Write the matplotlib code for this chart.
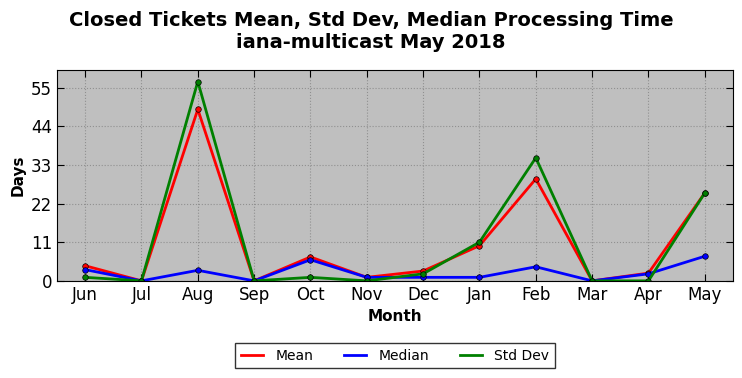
import matplotlib
matplotlib.use("Agg")
import matplotlib.pyplot as plt
from matplotlib.lines import Line2D

months = ["Jun", "Jul", "Aug", "Sep", "Oct", "Nov", "Dec", "Jan", "Feb", "Mar", "Apr", "May"]
mean_vals = [4.3, 0, 48.8, 0, 6.8, 1.0, 2.8, 10.0, 29.0, 0, 2.2, 25.0]
median_vals = [3.2, 0, 3.0, 0, 6.0, 1.0, 1.0, 1.0, 4.0, 0, 2.0, 7.0]
std_vals = [1.0, 0, 56.7, 0, 1.0, 0, 2.0, 11.0, 35.0, 0, 0, 25.0]
yticks = [0, 11, 22, 33, 44, 55]

fig = plt.figure(figsize=(7.42, 3.78), dpi=100)
ax = fig.add_axes([0.0768, 0.257, 0.911, 0.558])
ax.set_facecolor("#bfbfbf")
x = list(range(len(months)))
handles = []
for vals, col, lab in [(mean_vals, "red", "Mean"), (median_vals, "blue", "Median"), (std_vals, "green", "Std Dev")]:
    ax.plot(x, vals, color=col, lw=2, marker="o", ms=4, mec="black", mew=0.5)
    handles.append(Line2D([], [], color=col, lw=2, label=lab))
ax.set_xlim(-0.5, 11.5)
ax.set_ylim(0, 60)
ax.set_xticks(x)
ax.set_xticklabels(months, fontsize=12)
ax.set_yticks(yticks)
ax.set_yticklabels([str(t) for t in yticks], fontsize=12)
ax.tick_params(direction="in", top=True, right=True, length=5)
ax.grid(True, linestyle=":", color="#909090", lw=0.8)
ax.set_xlabel("Month", fontsize=11, fontweight="bold")
ax.set_ylabel("Days", fontsize=11, fontweight="bold")
fig.suptitle("Closed Tickets Mean, Std Dev, Median Processing Time\niana-multicast May 2018",
             fontsize=14, fontweight="bold", y=0.972)
leg = ax.legend(handles=handles, loc="upper center", bbox_to_anchor=(0.5, -0.262), ncol=3, fontsize=10,
                frameon=True, fancybox=False, edgecolor="black", columnspacing=2.2,
                handlelength=1.6, handletextpad=0.9, borderaxespad=0.5)
leg.get_frame().set_linewidth(1)
fig.savefig("out.png", dpi=100)
